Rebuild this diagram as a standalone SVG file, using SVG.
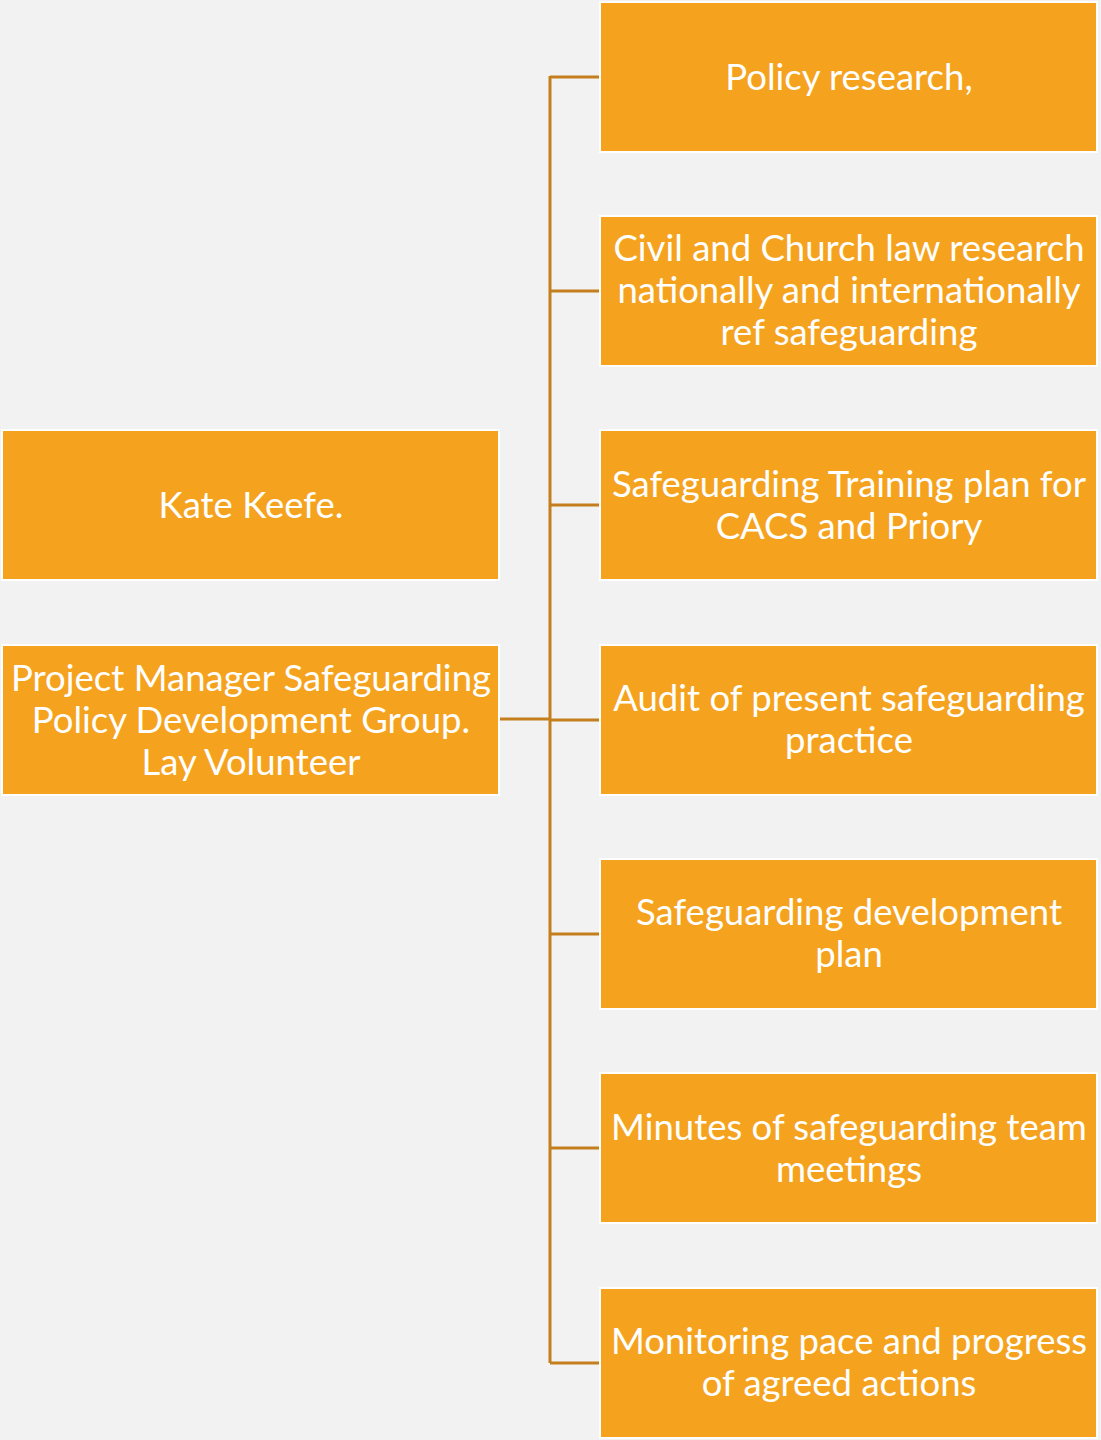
<svg xmlns="http://www.w3.org/2000/svg" width="1101" height="1440" viewBox="0 0 1101 1440">
<style>
.box{fill:#F5A31E;stroke:#FFFFFF;stroke-width:2}
.t{font-family:Lato,"Open Sans",sans-serif;font-size:36.5px;fill:#FFFFFF;text-anchor:middle}
.c{stroke:#C47F1C;stroke-width:3;fill:none}
</style>
<rect width="1101" height="1440" fill="#F2F2F2"/>
<g id="connectors">
<path class="c" d="M550 76V1363"/>
<path class="c" d="M550 77H600M550 291H600M550 505H600M550 720H600M550 934H600M550 1148H600M550 1363H600"/>
<path class="c" d="M500 719H550"/>
</g>
<g id="kate"><rect class="box" x="2" y="430" width="497" height="150"/><text class="t" x="251" y="518">Kate Keefe.</text></g>
<g id="pm"><rect class="box" x="2" y="645" width="497" height="150"/><text class="t" x="251" y="691">Project Manager Safeguarding</text><text class="t" x="251" y="733">Policy Development Group.</text><text class="t" x="251" y="775">Lay Volunteer</text></g>
<g id="n1"><rect class="box" x="600" y="2" width="497" height="150"/><text class="t" x="849" y="90">Policy research,</text></g>
<g id="n2"><rect class="box" x="600" y="216" width="497" height="150"/><text class="t" x="849" y="261">Civil and Church law research</text><text class="t" x="849" y="303">nationally and internationally</text><text class="t" x="849" y="345">ref safeguarding</text></g>
<g id="n3"><rect class="box" x="600" y="430" width="497" height="150"/><text class="t" x="849" y="497">Safeguarding Training plan for</text><text class="t" x="849" y="539">CACS and Priory</text></g>
<g id="n4"><rect class="box" x="600" y="645" width="497" height="150"/><text class="t" x="849" y="711">Audit of present safeguarding</text><text class="t" x="849" y="753">practice</text></g>
<g id="n5"><rect class="box" x="600" y="859" width="497" height="150"/><text class="t" x="849" y="925">Safeguarding development</text><text class="t" x="849" y="967">plan</text></g>
<g id="n6"><rect class="box" x="600" y="1073" width="497" height="150"/><text class="t" x="849" y="1140">Minutes of safeguarding team</text><text class="t" x="849" y="1182">meetings</text></g>
<g id="n7"><rect class="box" x="600" y="1288" width="497" height="150"/><text class="t" x="849" y="1354">Monitoring pace and progress</text><text class="t" x="839" y="1396">of agreed actions</text></g>
</svg>
